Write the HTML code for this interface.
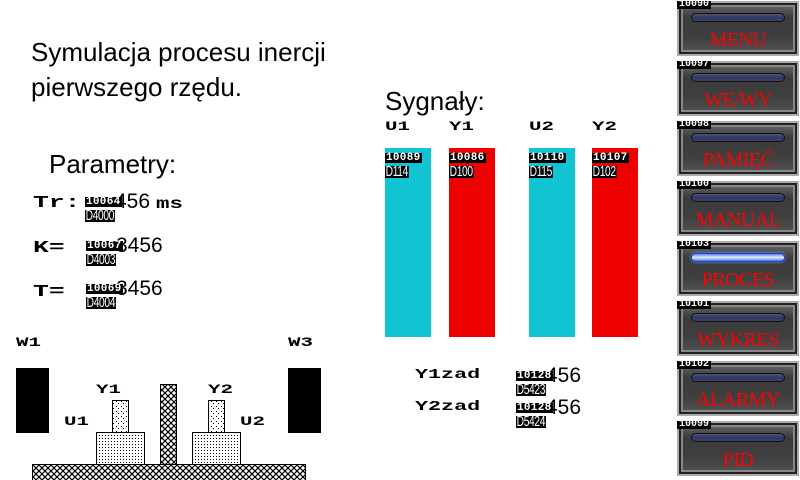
<!DOCTYPE html>
<html><head><meta charset="utf-8">
<style>
*{margin:0;padding:0;box-sizing:border-box}
body{width:800px;height:480px;background:#fff;position:relative;overflow:hidden;font-family:"Liberation Sans",sans-serif}
.a{position:absolute}
.t{font-size:26px;color:#000;line-height:1;white-space:nowrap}
.px{font-family:"Liberation Mono",monospace;font-weight:bold;color:#000;white-space:nowrap;transform-origin:0 0;line-height:1}
.tag{color:#fff;white-space:nowrap;line-height:1;z-index:2}
.tag .i{display:inline-block;background:#000;font-family:"Liberation Mono",monospace;font-weight:bold;font-size:11px;line-height:10px;padding:0 1px;letter-spacing:0.3px}
.tag .d{display:inline-block;background:#000;font-family:"Liberation Sans",sans-serif;font-size:15px;line-height:12px;padding:0 1px;transform:scaleX(0.68);transform-origin:0 0;letter-spacing:-0.5px}
.btn{left:677px;width:122px;height:55px;background:linear-gradient(#6a6a6a,#3a3a3a 30%,#404040 70%,#555);border:2px solid #aaa;box-shadow:inset 0 0 0 2px #222,inset 0 0 0 4px #888}
.btn .bar{position:absolute;left:12px;top:10px;width:94px;height:9px;border-radius:5px;background:linear-gradient(#556 ,#2a3770 50%,#445);border:1px solid #111}
.btn .lbl{position:absolute;left:0;right:0;top:26px;text-align:center;font-family:"Liberation Serif",serif;color:#f00;font-size:20px;letter-spacing:-0.5px}
.btn .id{position:absolute;left:-2px;top:-2px;background:#000;color:#fff;font-family:"Liberation Mono",monospace;font-weight:bold;font-size:10px;line-height:8px;padding:0 2px}
.val{font-size:21px;line-height:1;white-space:nowrap}
</style></head><body>
<svg width="0" height="0" class="a">
<defs>
<pattern id="hatch" width="6" height="6" patternUnits="userSpaceOnUse"><rect width="6" height="6" fill="#fff"/><path d="M0 0L6 6M6 0L0 6" stroke="#000" stroke-width="1.2"/></pattern>
<pattern id="dots" width="3" height="3" patternUnits="userSpaceOnUse"><rect width="3" height="3" fill="#fff"/><rect width="1" height="1" fill="#000"/></pattern>
<pattern id="dots2" width="5" height="5" patternUnits="userSpaceOnUse"><rect width="5" height="5" fill="#fff"/><rect x="1" y="1" width="1" height="1" fill="#000"/><rect x="3" y="3" width="1" height="1" fill="#000"/></pattern>
</defs></svg>

<div class="a t" style="left:31px;top:35px;line-height:35px">Symulacja procesu inercji<br>pierwszego rzędu.</div>
<div class="a t" style="left:49px;top:151px">Parametry:</div>
<div class="a t" style="left:385px;top:88px">Sygnały:</div>

<div class="a px" style="left:33px;top:195px;font-size:17px;transform:scaleX(1.55)">Tr:</div>
<div class="a val" style="left:115px;top:191px">456 <span style="display:inline-block;transform:scaleX(1.4);transform-origin:0 0;font-family:'Liberation Mono',monospace;font-weight:bold;font-size:16px">ms</span></div>
<div class="a tag" style="left:85px;top:192px"><span class="i">10064</span><br><span class="d">D4000</span></div>

<div class="a px" style="left:33px;top:240px;font-size:17px;transform:scaleX(1.55)">K=</div>
<div class="a val" style="left:116px;top:235px">3456</div>
<div class="a tag" style="left:86px;top:236px"><span class="i">10067</span><br><span class="d">D4003</span></div>

<div class="a px" style="left:33px;top:284px;font-size:17px;transform:scaleX(1.55)">T=</div>
<div class="a val" style="left:116px;top:278px">3456</div>
<div class="a tag" style="left:86px;top:279px"><span class="i">10069</span><br><span class="d">D4004</span></div>

<div class="a px" style="left:385px;top:120px;font-size:13px;transform:scaleX(1.6)">U1</div>
<div class="a px" style="left:449px;top:120px;font-size:13px;transform:scaleX(1.6)">Y1</div>
<div class="a px" style="left:529px;top:120px;font-size:13px;transform:scaleX(1.6)">U2</div>
<div class="a px" style="left:592px;top:120px;font-size:13px;transform:scaleX(1.6)">Y2</div>
<svg class="a" style="left:0;top:0" width="800" height="480" id="chart"></svg>

<div class="a px" style="left:415px;top:368px;font-size:14px;transform:scaleX(1.55)">Y1zad</div>
<div class="a val" style="left:546px;top:365px">456</div>
<div class="a tag" style="left:516px;top:366px"><span class="i">10128</span><br><span class="d">D5423</span></div>
<div class="a px" style="left:415px;top:400px;font-size:14px;transform:scaleX(1.55)">Y2zad</div>
<div class="a val" style="left:546px;top:397px">456</div>
<div class="a tag" style="left:516px;top:398px"><span class="i">10128</span><br><span class="d">D5424</span></div>

<svg class="a" style="left:0;top:330px" width="330" height="150">
<rect x="16" y="38" width="33" height="65" fill="#000"/>
<rect x="288" y="38" width="33" height="65" fill="#000"/>
<rect x="32.5" y="134.5" width="273" height="16" fill="url(#hatch)" stroke="#000"/>
<rect x="160.5" y="54.5" width="16" height="80" fill="url(#hatch)" stroke="#000"/>
<rect x="96.5" y="102.5" width="48" height="32" fill="url(#dots)" stroke="#000"/>
<rect x="112.5" y="70.5" width="16" height="32" fill="url(#dots2)" stroke="#000"/>
<rect x="192.5" y="102.5" width="48" height="32" fill="url(#dots)" stroke="#000"/>
<rect x="208.5" y="70.5" width="16" height="32" fill="url(#dots2)" stroke="#000"/>
</svg>
<div class="a px" style="left:16px;top:336px;font-size:13px;transform:scaleX(1.6)">W1</div>
<div class="a px" style="left:288px;top:336px;font-size:13px;transform:scaleX(1.6)">W3</div>
<div class="a px" style="left:96px;top:383px;font-size:13px;transform:scaleX(1.6)">Y1</div>
<div class="a px" style="left:208px;top:383px;font-size:13px;transform:scaleX(1.6)">Y2</div>
<div class="a px" style="left:64px;top:415px;font-size:13px;transform:scaleX(1.6)">U1</div>
<div class="a px" style="left:240px;top:415px;font-size:13px;transform:scaleX(1.6)">U2</div>

<div class="a btn" style="top:1px"><div class="bar"></div><div class="lbl">MENU</div><div class="id">10090</div></div>
<div class="a btn" style="top:61px"><div class="bar"></div><div class="lbl">WE/WY</div><div class="id">10097</div></div>
<div class="a btn" style="top:121px"><div class="bar"></div><div class="lbl">PAMIĘĆ</div><div class="id">10098</div></div>
<div class="a btn" style="top:181px"><div class="bar"></div><div class="lbl">MANUAL</div><div class="id">10100</div></div>
<div class="a btn" style="top:241px"><div class="bar" style="background:linear-gradient(#6080ff,#e0f0ff 50%,#5070f0);border-color:#2040c0;box-shadow:0 0 3px #60a0ff"></div><div class="lbl">PROCES</div><div class="id">10103</div></div>
<div class="a btn" style="top:301px"><div class="bar"></div><div class="lbl">WYKRES</div><div class="id">10101</div></div>
<div class="a btn" style="top:361px"><div class="bar"></div><div class="lbl">ALARMY</div><div class="id">10102</div></div>
<div class="a btn" style="top:421px"><div class="bar"></div><div class="lbl">PID</div><div class="id">10099</div></div>

<script>
const barNames = ["U1","Y1","U2","Y2"];
const barValues = [100,100,100,100];
const barTagIds = ["10089","10086","10110","10107"];
const barTagAddr = ["D114","D100","D115","D102"];
const barLeft = [385,449,529,592];
const fills = ["#10c4d4","#ee0000","#10c4d4","#ee0000"];
const top0 = 148, bottom0 = 337, maxV = 100;
function yScale(v){ return bottom0 - (v/maxV)*(bottom0-top0); }
const svg = document.getElementById('chart');
const NS = "http://www.w3.org/2000/svg";
barValues.forEach((v,i)=>{
  const r = document.createElementNS(NS,'rect');
  r.setAttribute('x', barLeft[i]);
  r.setAttribute('y', yScale(v));
  r.setAttribute('width', 46);
  r.setAttribute('height', bottom0 - yScale(v));
  r.setAttribute('fill', fills[i]);
  
  
  svg.appendChild(r);
  const tag = document.createElement('div');
  tag.className = 'a tag';
  tag.style.left = barLeft[i] + 'px';
  tag.style.top = (yScale(v)) + 'px';
  tag.innerHTML = '<span class="i">' + barTagIds[i] + '</span><br><span class="d">' + barTagAddr[i] + '</span>';
  
  
  document.body.appendChild(tag);
});
</script>
</body></html>
